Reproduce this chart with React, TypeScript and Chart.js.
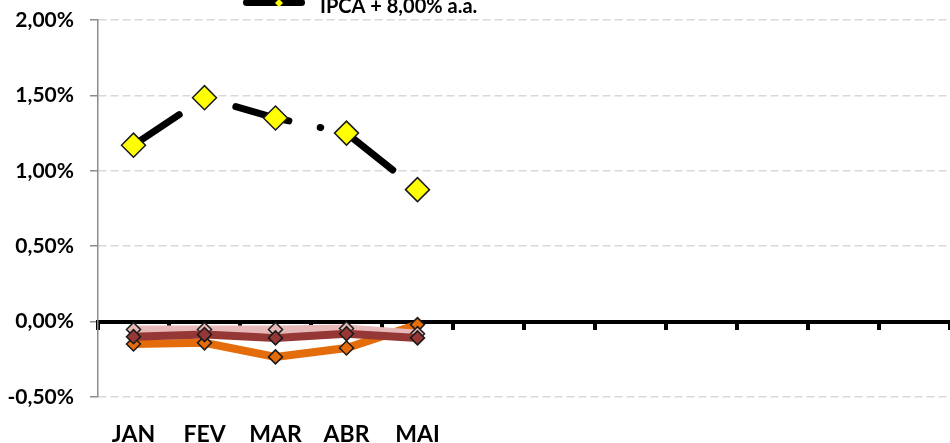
import { useEffect, useRef } from 'react';
import { Chart, registerables } from 'chart.js';

Chart.register(...registerables);

// ---- data ----
const months = ['JAN', 'FEV', 'MAR', 'ABR', 'MAI', '', '', '', '', '', '', ''];
const ipcaLabel = 'IPCA + 8,00% a.a.';
const ipcaValues = [1.17, 1.485, 1.35, 1.25, 0.875];
const serieAValues = [-0.1, -0.086, -0.108, -0.08, -0.108]; // dark red
const serieBValues = [-0.053, -0.053, -0.053, -0.046, -0.08]; // pink
const serieCValues = [-0.148, -0.141, -0.234, -0.175, -0.02]; // orange
const yMin = -0.5;
const yMax = 2.0;
const yStep = 0.5;

const FONT = 'Lato';

const fmtPct = (v: number) => v.toFixed(2).replace('.', ',') + '%';

const topLegend = {
  id: 'topLegend',
  afterDraw(chart: any) {
    const ds = chart.data.datasets[0];
    const ctx = chart.ctx;
    ctx.save();
    ctx.strokeStyle = ds.borderColor;
    ctx.lineWidth = 7;
    ctx.lineCap = 'round';
    ctx.beginPath();
    ctx.moveTo(246.5, 2.5);
    ctx.lineTo(301.5, 2.5);
    ctx.stroke();
    const cx = 279, cy = 3, r = 4;
    ctx.beginPath();
    ctx.moveTo(cx - r, cy);
    ctx.lineTo(cx, cy - r);
    ctx.lineTo(cx + r, cy);
    ctx.lineTo(cx, cy + r);
    ctx.closePath();
    ctx.fillStyle = ds.pointBackgroundColor;
    ctx.fill();
    ctx.fillStyle = '#000';
    ctx.font = `bold 20px ${FONT}`;
    ctx.textBaseline = 'alphabetic';
    ctx.textAlign = 'left';
    ctx.fillText(ds.label, 320, 13);
    ctx.restore();
  },
};

export default function App() {
  const ref = useRef<HTMLCanvasElement | null>(null);

  useEffect(() => {
    if (!ref.current) return;
    const chart = new Chart(ref.current, {
      type: 'line',
      data: {
        labels: months,
        datasets: [
          {
            label: ipcaLabel,
            data: ipcaValues,
            xAxisID: 'x',
            borderColor: '#000000',
            borderWidth: 7,
            borderCapStyle: 'round',
            borderDash: [55, 32, 0.5, 30.5],
            pointStyle: 'rectRot',
            pointRadius: 12,
            pointBackgroundColor: '#ffff00',
            pointBorderColor: '#1a1a1a',
            pointBorderWidth: 1.5,
            tension: 0,
          },
          {
            label: 'Série A',
            data: serieAValues,
            xAxisID: 'x',
            borderColor: '#953735',
            borderWidth: 8,
            pointStyle: 'rectRot',
            pointRadius: 7,
            pointBackgroundColor: '#953735',
            pointBorderColor: '#1a1a1a',
            pointBorderWidth: 1.5,
            tension: 0,
          },
          {
            label: 'Série B',
            data: serieBValues,
            xAxisID: 'x',
            borderColor: '#e6b9b8',
            borderWidth: 8,
            pointStyle: 'rectRot',
            pointRadius: 7,
            pointBackgroundColor: '#e6b9b8',
            pointBorderColor: '#1a1a1a',
            pointBorderWidth: 1.5,
            tension: 0,
          },
          {
            label: 'Série C',
            data: serieCValues,
            xAxisID: 'x',
            borderColor: '#e46c0a',
            borderWidth: 8,
            pointStyle: 'rectRot',
            pointRadius: 7,
            pointBackgroundColor: '#e46c0a',
            pointBorderColor: '#1a1a1a',
            pointBorderWidth: 1.5,
            tension: 0,
          },
        ],
      },
      options: {
        responsive: false,
        animation: false,
        layout: { autoPadding: false, padding: { top: 20, right: 0, left: 0, bottom: 0 } },
        plugins: {
          legend: { display: false },
          tooltip: { enabled: false },
        },
        scales: {
          x: {
            type: 'category',
            position: { y: 0 },
            offset: true,
            grid: {
              display: true,
              drawOnChartArea: false,
              drawTicks: true,
              offset: true,
              color: '#000000',
              lineWidth: 4,
              tickLength: 6,
            },
            border: { display: true, color: '#000000', width: 4 },
            ticks: { display: false },
          },
          x2: {
            type: 'category',
            position: 'bottom',
            offset: true,
            grid: { display: false, drawTicks: false },
            border: { display: false },
            ticks: {
              color: '#000000',
              font: { family: FONT, size: 23, weight: 'bold' },
              padding: 24,
              maxRotation: 0,
              autoSkip: false,
            },
            afterFit: (s: any) => {
              s.height = 46;
            },
          },
          y: {
            type: 'linear',
            min: yMin,
            max: yMax,
            grid: {
              color: '#d9d9d9',
              lineWidth: 1.5,
              tickColor: '#8c8c8c',
              tickLength: 8,
              tickWidth: 1.5,
              tickBorderDash: [],
            },
            border: { display: true, color: '#8c8c8c', width: 1.5, dash: [8, 4] },
            ticks: {
              stepSize: yStep,
              color: '#000000',
              font: { family: FONT, size: 21, weight: 'bold' },
              padding: 16,
              callback: (v: any) => fmtPct(Number(v)),
            },
            afterFit: (s: any) => {
              s.width = 98;
              s.paddingTop = 0;
              s.paddingBottom = 0;
            },
          },
        },
      } as any,
      plugins: [topLegend],
    });
    return () => chart.destroy();
  }, []);

  return (
    <div style={{ position: 'fixed', left: 0, top: 0, width: 950, height: 443, background: '#fff' }}>
      <canvas ref={ref} width={950} height={443} style={{ display: 'block' }} />
    </div>
  );
}
